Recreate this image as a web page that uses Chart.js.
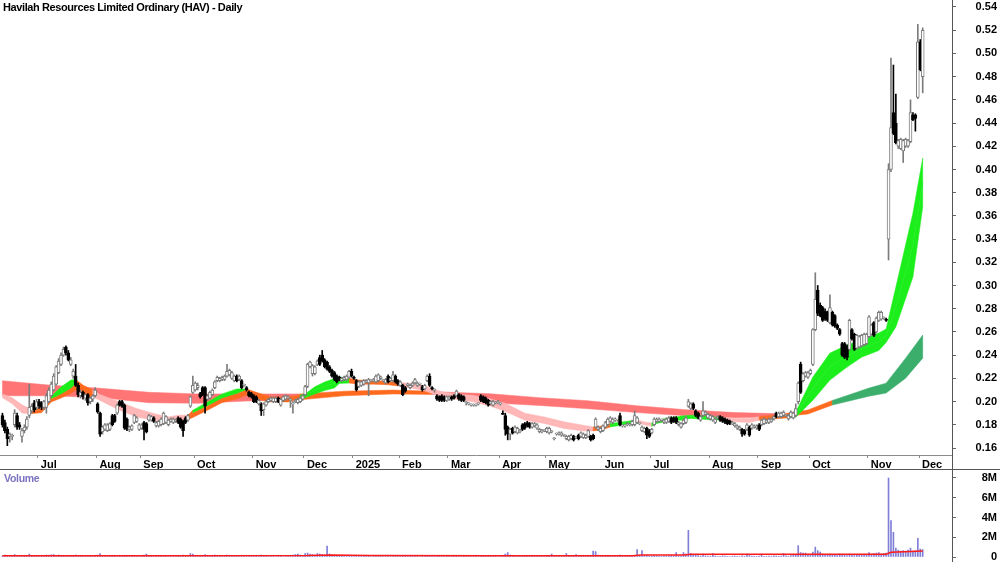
<!DOCTYPE html>
<html>
<head>
<meta charset="utf-8">
<title>HAV Daily</title>
<script src="https://cdn.jsdelivr.net/npm/chart.js@4.4.1/dist/chart.umd.min.js"></script>
<style>
  html, body { margin: 0; padding: 0; background: #fff; }
  #wrap { position: relative; width: 1000px; height: 562px; overflow: hidden; font-family: "Liberation Sans", Arial, sans-serif; }
  #priceChart { position: absolute; left: 0; top: 0; }
  #volChart { position: absolute; left: 0; top: 470px; }
  .title { position: absolute; left: 3px; top: 1px; font-weight: bold; font-size: 11px; letter-spacing: -0.4px; color: #000; white-space: nowrap; }
  .vlabel { position: absolute; left: 4px; top: 472px; font-weight: bold; font-size: 10.5px; letter-spacing: -0.3px; color: #7b72c0; }
  .hline { position: absolute; left: 0; top: 469px; width: 1000px; height: 1px; background: #555; }
  .vline { position: absolute; left: 952px; top: 0; width: 1px; height: 562px; background: #555; }
</style>
</head>
<body>
<div id="wrap">
  <canvas id="priceChart" width="1000" height="469"></canvas>
  <canvas id="volChart" width="1000" height="92"></canvas>
  <div class="hline"></div>
  <div class="vline"></div>
  <div class="title">Havilah Resources Limited Ordinary (HAV) - Daily</div>
  <div class="vlabel">Volume</div>
</div>
<script>
// daily candles, index 0 = mid June 2024, last = early Dec 2025
const opens = [
  .188,.182,.176,.170,.170,.180,.188,.180,.170,.175,
  .178,.188,.192,.199,.195,.200,.199,.195,.195,.200,
  .205,.210,.215,.225,.232,.240,.247,.242,.232,.222,
  .222,.214,.205,.208,.203,.206,.200,.202,.205,.198,
  .190,.174,.176,.175,.176,.188,.188,.190,.200,.200,
  .197,.185,.176,.176,.182,.183,.176,.177,.182,.181,
  .184,.184,.186,.179,.179,.180,.181,.182,.180,.183,
  .182,.183,.186,.185,.183,.186,.184,.196,.208,.210,
  .212,.207,.212,.212,.202,.203,.206,.212,.218,.218,
  .219,.219,.222,.223,.220,.218,.222,.219,.218,.214,
  .212,.208,.207,.205,.204,.198,.198,.193,.197,.200,
  .201,.200,.200,.203,.197,.201,.202,.203,.201,.198,
  .200,.199,.200,.202,.206,.213,.230,.224,.224,.232,
  .238,.240,.236,.234,.230,.227,.225,.222,.221,.218,
  .219,.219,.221,.226,.221,.218,.213,.214,.215,.217,
  .216,.218,.218,.217,.218,.220,.218,.216,.222,.218,
  .218,.222,.218,.214,.214,.212,.214,.212,.214,.216,
  .214,.215,.213,.211,.218,.222,.212,.210,.205,.204,
  .205,.204,.201,.202,.204,.205,.205,.206,.205,.204,
  .199,.198,.197,.197,.197,.198,.205,.204,.203,.201,
  .198,.197,.199,.199,.198,.190,.188,.178,.172,.177,
  .174,.173,.174,.180,.181,.182,.181,.178,.179,.177,
  .174,.174,.175,.174,.173,.174,.168,.172,.172,.171,
  .171,.168,.167,.168,.170,.169,.171,.170,.169,.169,
  .170,.170,.171,.178,.176,.174,.175,.178,.180,.183,
  .182,.184,.184,.188,.179,.179,.180,.180,.180,.180,
  .182,.181,.175,.174,.177,.175,.173,.180,.183,.183,
  .184,.182,.182,.183,.186,.186,.186,.180,.178,.181,
  .182,.196,.194,.198,.192,.190,.184,.188,.189,.186,
  .185,.184,.182,.186,.187,.186,.185,.184,.183,.181,
  .179,.177,.176,.176,.175,.176,.178,.177,.178,.177,
  .180,.180,.181,.182,.182,.183,.185,.190,.187,.187,
  .188,.188,.185,.187,.186,.188,.200,.232,.218,.222,
  .221,.224,.232,.262,.296,.283,.281,.278,.277,.268,
  .277,.274,.266,.262,.250,.250,.248,.245,.262,.258,
  .246,.247,.248,.249,.250,.256,.258,.268,.260,.270,
  .271,.272,.271,.340,.400,.449,.440,.420,.418,.416,
  .420,.420,.424,.447,.447,.462,.510,.480
];
const highs = [
  .190,.184,.178,.173,.172,.193,.190,.182,.177,.180,
  .187,.215,.198,.201,.202,.202,.200,.201,.207,.212,
  .217,.224,.231,.237,.242,.247,.248,.244,.238,.228,
  .232,.216,.210,.209,.207,.207,.204,.206,.212,.199,
  .191,.179,.181,.181,.182,.189,.189,.198,.201,.201,
  .198,.186,.179,.180,.189,.187,.181,.181,.183,.182,
  .189,.188,.187,.183,.184,.186,.191,.188,.185,.186,
  .186,.185,.187,.186,.184,.187,.189,.205,.222,.217,
  .216,.208,.213,.213,.206,.209,.211,.218,.222,.221,
  .222,.223,.232,.228,.226,.223,.223,.223,.219,.215,
  .213,.209,.208,.206,.205,.202,.199,.199,.201,.203,
  .204,.204,.204,.204,.203,.205,.206,.205,.203,.200,
  .202,.203,.204,.206,.214,.233,.235,.232,.231,.236,
  .240,.244,.237,.235,.231,.228,.226,.223,.222,.221,
  .222,.223,.227,.228,.222,.219,.218,.218,.219,.219,
  .220,.219,.220,.223,.224,.222,.219,.220,.223,.221,
  .226,.223,.219,.218,.215,.213,.216,.215,.217,.220,
  .217,.216,.214,.215,.223,.224,.213,.211,.206,.205,
  .206,.205,.205,.205,.205,.206,.210,.207,.206,.205,
  .200,.199,.198,.198,.198,.199,.206,.205,.204,.202,
  .201,.201,.200,.201,.199,.192,.190,.179,.177,.178,
  .179,.178,.176,.181,.182,.183,.182,.182,.182,.181,
  .177,.176,.176,.178,.178,.175,.169,.173,.174,.174,
  .172,.171,.171,.172,.171,.170,.172,.174,.173,.172,
  .176,.171,.172,.186,.179,.178,.180,.183,.186,.187,
  .186,.186,.185,.190,.180,.180,.182,.181,.184,.192,
  .187,.182,.179,.178,.178,.176,.177,.186,.186,.186,
  .185,.185,.186,.187,.187,.187,.187,.183,.182,.185,
  .187,.202,.199,.199,.193,.191,.188,.200,.192,.190,
  .189,.188,.186,.188,.188,.187,.186,.185,.184,.183,
  .182,.180,.179,.177,.176,.181,.179,.181,.180,.180,
  .181,.185,.186,.185,.186,.186,.188,.191,.191,.191,
  .192,.189,.189,.192,.191,.198,.217,.234,.225,.226,
  .226,.228,.263,.311,.300,.285,.282,.280,.278,.292,
  .278,.275,.267,.263,.251,.251,.249,.271,.263,.259,
  .258,.257,.258,.259,.259,.274,.267,.269,.273,.278,
  .278,.273,.272,.405,.496,.490,.465,.426,.427,.426,
  .427,.426,.460,.449,.448,.525,.512,.522
];
const lows = [
  .178,.173,.162,.165,.167,.178,.176,.176,.165,.173,
  .176,.186,.190,.191,.193,.194,.193,.193,.190,.199,
  .204,.209,.214,.224,.231,.239,.240,.235,.231,.220,
  .213,.204,.203,.202,.201,.197,.198,.200,.204,.190,
  .170,.172,.175,.174,.175,.179,.182,.189,.196,.195,
  .176,.175,.174,.175,.181,.182,.175,.176,.167,.173,
  .183,.183,.182,.178,.178,.179,.180,.181,.179,.182,
  .181,.182,.181,.177,.170,.181,.183,.195,.207,.209,
  .210,.203,.205,.190,.201,.202,.205,.211,.217,.217,
  .218,.218,.221,.222,.219,.217,.217,.218,.211,.213,
  .209,.204,.203,.199,.199,.197,.188,.188,.196,.199,
  .200,.199,.199,.199,.196,.200,.201,.202,.195,.190,
  .199,.198,.199,.201,.205,.212,.229,.222,.223,.231,
  .231,.234,.229,.227,.225,.221,.218,.216,.218,.217,
  .218,.218,.220,.221,.219,.209,.212,.213,.214,.216,
  .205,.217,.217,.216,.217,.219,.217,.215,.216,.217,
  .217,.216,.214,.213,.205,.208,.213,.211,.213,.215,
  .213,.214,.209,.210,.217,.213,.210,.208,.201,.200,
  .200,.200,.200,.201,.201,.202,.204,.201,.200,.200,
  .197,.197,.196,.196,.196,.197,.200,.199,.198,.196,
  .197,.196,.198,.198,.197,.189,.171,.167,.167,.172,
  .173,.172,.173,.175,.176,.178,.177,.177,.178,.176,
  .173,.173,.174,.173,.172,.173,.167,.171,.171,.170,
  .170,.167,.166,.167,.166,.168,.167,.169,.168,.168,
  .169,.166,.167,.177,.175,.173,.174,.177,.179,.182,
  .181,.183,.183,.179,.178,.178,.179,.179,.179,.179,
  .181,.180,.174,.173,.168,.169,.172,.179,.182,.182,
  .183,.181,.181,.182,.181,.182,.181,.179,.177,.180,
  .181,.195,.193,.193,.187,.185,.183,.187,.188,.185,
  .184,.183,.181,.185,.183,.182,.181,.180,.180,.180,
  .178,.176,.175,.170,.171,.175,.170,.176,.177,.176,
  .175,.179,.180,.181,.181,.182,.184,.186,.186,.186,
  .187,.187,.184,.186,.185,.187,.198,.207,.217,.221,
  .220,.223,.231,.261,.274,.273,.269,.270,.269,.267,
  .265,.264,.262,.257,.239,.237,.236,.244,.253,.244,
  .245,.246,.247,.248,.249,.255,.257,.256,.259,.269,
  .270,.271,.269,.322,.398,.430,.422,.418,.417,.406,
  .419,.419,.423,.442,.433,.461,.485,.466
];
const closes = [
  .180,.175,.168,.172,.170,.190,.178,.178,.175,.178,
  .185,.195,.196,.193,.200,.196,.195,.200,.205,.210,
  .215,.222,.230,.235,.240,.245,.242,.236,.236,.226,
  .214,.206,.208,.204,.206,.199,.203,.205,.210,.191,
  .172,.178,.180,.180,.181,.180,.183,.197,.197,.196,
  .177,.176,.178,.179,.188,.186,.180,.180,.176,.174,
  .188,.187,.183,.182,.183,.185,.190,.187,.184,.185,
  .185,.184,.182,.178,.175,.182,.188,.204,.214,.216,
  .214,.204,.206,.196,.205,.208,.210,.217,.221,.220,
  .221,.222,.226,.227,.225,.222,.218,.222,.212,.214,
  .210,.205,.204,.200,.200,.201,.192,.198,.200,.202,
  .203,.203,.203,.200,.202,.204,.205,.204,.202,.199,
  .201,.202,.203,.205,.213,.232,.234,.231,.230,.235,
  .232,.235,.230,.228,.226,.222,.219,.217,.219,.220,
  .221,.222,.226,.222,.220,.210,.217,.217,.218,.218,
  .219,.218,.219,.222,.223,.221,.218,.219,.217,.220,
  .223,.217,.215,.217,.206,.209,.215,.214,.216,.219,
  .216,.215,.210,.214,.222,.214,.211,.210,.202,.201,
  .201,.201,.204,.204,.202,.203,.209,.202,.201,.201,
  .199,.198,.197,.197,.197,.198,.201,.200,.199,.197,
  .200,.200,.199,.200,.198,.189,.176,.172,.176,.173,
  .178,.177,.175,.176,.177,.179,.178,.181,.181,.180,
  .176,.175,.175,.177,.177,.174,.168,.172,.173,.173,
  .171,.170,.170,.171,.167,.169,.168,.173,.172,.171,
  .175,.167,.168,.185,.178,.177,.179,.182,.185,.186,
  .185,.185,.184,.180,.179,.179,.181,.180,.183,.188,
  .186,.181,.178,.177,.171,.170,.176,.185,.185,.185,
  .184,.184,.185,.186,.182,.183,.182,.182,.181,.184,
  .186,.200,.198,.194,.188,.186,.187,.192,.191,.189,
  .188,.187,.185,.187,.184,.183,.182,.181,.181,.182,
  .181,.179,.178,.172,.172,.180,.171,.180,.179,.179,
  .176,.184,.185,.184,.185,.185,.187,.187,.190,.190,
  .191,.188,.188,.191,.190,.194,.216,.208,.224,.225,
  .225,.227,.262,.288,.276,.274,.270,.271,.270,.281,
  .266,.265,.263,.258,.240,.238,.238,.270,.254,.245,
  .257,.256,.257,.258,.258,.273,.266,.257,.272,.277,
  .277,.272,.270,.400,.436,.431,.423,.425,.426,.425,
  .426,.425,.449,.443,.444,.510,.486,.520
];
// volume in millions of shares
const volumes = [
  .12,.2,.15,.08,.1,.25,.1,.06,.12,.09,
  .15,.3,.12,.1,.08,.06,.1,.14,.2,.18,
  .22,.25,.15,.2,.18,.12,.1,.15,.08,.1,
  .2,.16,.1,.06,.05,.1,.08,.05,.12,.2,
  .35,.12,.06,.05,.1,.15,.08,.05,.1,.06,
  .18,.1,.05,.04,.12,.06,.05,.08,.2,.3,
  .12,.08,.05,.1,.06,.08,.15,.1,.05,.08,
  .06,.05,.1,.12,.2,.08,.1,.35,.3,.15,
  .1,.08,.12,.25,.1,.08,.15,.2,.12,.1,
  .06,.08,.2,.12,.1,.06,.08,.05,.1,.06,
  .05,.08,.06,.1,.12,.05,.2,.15,.06,.05,
  .04,.06,.05,.08,.1,.05,.06,.04,.1,.2,
  .25,.3,.2,.15,.35,.4,.3,.25,.2,.35,
  .3,.25,.2,1.1,.3,.2,.15,.1,.12,.08,
  .06,.05,.1,.15,.08,.12,.06,.05,.08,.06,
  .1,.05,.04,.08,.12,.06,.05,.08,.1,.05,
  .12,.08,.1,.06,.15,.1,.05,.06,.08,.1,
  .06,.05,.1,.08,.15,.12,.06,.05,.1,.08,
  .06,.05,.08,.1,.06,.08,.12,.05,.06,.08,
  .04,.03,.05,.04,.03,.05,.1,.08,.06,.1,
  .05,.06,.04,.05,.06,.1,.3,.45,.2,.15,
  .1,.12,.08,.15,.1,.08,.12,.06,.1,.08,
  .12,.06,.05,.1,.08,.3,.06,.05,.08,.06,
  .1,.35,.08,.06,.1,.25,.08,.06,.12,.08,
  .1,.15,.6,.55,.2,.15,.1,.12,.08,.1,
  .06,.08,.1,.2,.06,.05,.08,.06,.1,.15,
  .75,.2,.65,.15,.2,.12,.1,.15,.12,.08,
  .06,.1,.08,.12,.15,.1,.45,.12,.1,.45,
  .3,2.7,.35,.25,.2,.15,.1,.3,.12,.1,
  .08,.35,.1,.06,.08,.12,.1,.06,.05,.08,
  .1,.06,.05,.12,.08,.3,.15,.1,.08,.06,
  .1,.3,.08,.06,.1,.08,.12,.1,.08,.1,
  .35,.12,.08,.15,.2,.25,1.15,.45,.4,.4,
  .3,.25,.5,1.0,.65,.5,.3,.25,.2,.3,
  .25,.2,.15,.3,.25,.2,.15,.3,.2,.15,
  .2,.25,.2,.3,.25,.45,.3,.35,.4,.45,
  .3,.35,.4,8.0,3.7,2.5,.9,.7,.6,.65,
  .6,.7,.9,.6,.65,1.9,.8,.75
];
// volume average line (red), read at a few candles
const volAvgX = [0, 60, 125, 135, 150, 200, 258, 262, 279, 282, 362, 364, 372, 377];
const volAvgY = [.12, .12, .14, .2, .14, .12, .13, .2, .2, .28, .28, .47, .55, .62];

// long-term MMA band (outer edges), colour per segment
const longX   = [0, 20, 40, 60, 80, 100, 122, 140, 160, 176, 180, 200, 220, 240, 260, 280, 300, 320, 330, 340, 355, 362, 370, 377];
const longTop = [.218, .214, .2115, .208, .2066, .2066, .2066, .209, .2099, .209, .2083, .2067, .2034, .2007, .1964, .1930, .1905, .1895, .1928, .2010, .2116, .2159, .2374, .2573];
const longBot = [.205, .205, .2035, .199, .1985, .2005, .2015, .205, .2066, .2062, .2057, .1989, .1967, .1938, .1905, .1878, .1860, .1870, .1893, .1970, .2047, .2073, .2202, .2374];
const longCol = 'rrrrrrooorrrrrrrroodddddd'.split('');

// short-term MMA band: top / middle / bottom edges, upper and lower colours
const shortX = [
  0, 4, 8, 11, 16, 20, 24, 28, 30, 33,
  37, 40, 48, 55, 62, 68, 72, 76, 78, 84,
  90, 96, 100, 104, 110, 117, 122, 124, 128, 132,
  136, 138, 142, 146, 152, 158, 162, 168, 172, 176,
  180, 186, 193, 200, 206, 214, 222, 230, 238, 242,
  246, 249, 256, 260, 263, 266, 268, 272, 276, 278,
  282, 286, 292, 295, 300, 306, 310, 316, 322, 325,
  332, 339, 346, 352, 359, 362, 366, 373, 377
];
const shortTop = [
  .2066,.2032,.1973,.1940,.1941,.2045,.2126,.2185,.2190,.2142,
  .2099,.2060,.1997,.1940,.1897,.1868,.1883,.1883,.1926,.1997,
  .2066,.2109,.2109,.2080,.2040,.2040,.2057,.2066,.2127,.2169,
  .2198,.2213,.2200,.2185,.2180,.2175,.2165,.2156,.2142,.2113,
  .2084,.2066,.2052,.2023,.1985,.1900,.1868,.1826,.1796,.1782,
  .1790,.1811,.1830,.1843,.1824,.1816,.1837,.1857,.1868,.1876,
  .1883,.1880,.1868,.1865,.1855,.1855,.1870,.1883,.1887,.1910,
  .2211,.2418,.2487,.2530,.2590,.2625,.2987,.3624,.4098
];
const shortMid = [
  .2049,.2006,.1937,.1918,.1922,.2020,.2062,.2110,.2150,.2106,
  .2070,.2035,.1962,.1904,.1868,.1846,.1854,.1865,.1900,.1960,
  .2026,.2066,.2100,.2052,.2018,.2018,.2040,.2049,.2097,.2132,
  .2158,.2185,.2180,.2168,.2165,.2160,.2150,.2135,.2120,.2092,
  .2062,.2043,.2025,.1992,.1950,.1870,.1840,.1797,.1772,.1765,
  .1775,.1797,.1817,.1830,.1812,.1801,.1824,.1842,.1854,.1858,
  .1869,.1865,.1854,.1855,.1840,.1838,.1855,.1866,.1873,.1888,
  .2112,.2302,.2392,.2456,.2515,.2568,.2815,.3349,.3887
];
const shortBot = [
  .2032,.1981,.1901,.1895,.1904,.1997,.2030,.2070,.2100,.2070,
  .2040,.2010,.1926,.1868,.1840,.1825,.1825,.1846,.1863,.1926,
  .1991,.2023,.2057,.2023,.1997,.1997,.2023,.2032,.2066,.2095,
  .2118,.2156,.2160,.2150,.2150,.2145,.2135,.2113,.2099,.2070,
  .2040,.2020,.1997,.1960,.1915,.1840,.1811,.1768,.1747,.1747,
  .1760,.1782,.1804,.1817,.1800,.1787,.1811,.1828,.1840,.1840,
  .1855,.1850,.1840,.1845,.1826,.1820,.1840,.1850,.1860,.1865,
  .2012,.2185,.2297,.2383,.2440,.2510,.2642,.3073,.3676
];
const shortUpCol = ('pppoogggoo' + 'pppppppogg' + 'ggoooogggg' + 'ggoooopppp' +
  'pppppppppo' + 'oggppggggg' + 'gggpppoogg' + 'ggggggggg').split('');
const shortLoCol = ('pppooooooo' + 'pppppppooo' + 'oooooogggg' + 'ggoooopppp' +
  'pppppppppo' + 'oggppggggg' + 'gggpppoogg' + 'ggggggggg').split('');

const priceTicks = [0.16, 0.18, 0.20, 0.22, 0.24, 0.26, 0.28, 0.30, 0.32, 0.34, 0.36, 0.38, 0.40, 0.42, 0.44, 0.46, 0.48, 0.50, 0.52, 0.54];
const volTicks = [0, 2, 4, 6, 8];
const monthTicks = [14.5, 38.5, 56.5, 78.5, 102.5, 123.5, 143.5, 162.5, 182.5, 203.5, 222.5, 245.5, 265.5, 289.5, 309.5, 330.5, 354.5, 375.5];
const monthLabels = ['Jul', 'Aug', 'Sep', 'Oct', 'Nov', 'Dec', '2025', 'Feb', 'Mar', 'Apr', 'May', 'Jun', 'Jul', 'Aug', 'Sep', 'Oct', 'Nov', 'Dec'];

const bandColors = { r: '#ff7575', p: '#ffb6b6', o: '#ff6a1e', g: '#1cee1c', d: '#3cae6c' };

Chart.defaults.font.family = '"Liberation Sans", Arial, sans-serif';
Chart.defaults.animation = false;

const isUp = closes.map((c, i) => c >= opens[i]);
const axisFont = { size: 11, weight: 'bold' };

// fill one band, joining runs of the same colour into one polygon
function fillBand(ctx, xs, ys, X, hi, lo, cols) {
  let k = 0;
  while (k < X.length - 1) {
    const c = cols[k];
    let e = k;
    while (e < X.length - 1 && cols[e] === c) e++;
    ctx.beginPath();
    for (let j = k; j <= e; j++) ctx.lineTo(xs.getPixelForValue(X[j]), ys.getPixelForValue(hi[j]));
    for (let j = e; j >= k; j--) ctx.lineTo(xs.getPixelForValue(X[j]), ys.getPixelForValue(lo[j]));
    ctx.closePath();
    ctx.fillStyle = bandColors[c];
    ctx.strokeStyle = bandColors[c];
    ctx.lineWidth = 0.5;
    ctx.fill();
    ctx.stroke();
    k = e;
  }
}

const bandPlugin = {
  id: 'mmaBands',
  beforeDatasetsDraw(chart) {
    const { ctx, chartArea, scales } = chart;
    ctx.save();
    ctx.beginPath();
    ctx.rect(chartArea.left, chartArea.top, chartArea.width, chartArea.height);
    ctx.clip();
    fillBand(ctx, scales.x, scales.y, longX, longTop, longBot, longCol);
    fillBand(ctx, scales.x, scales.y, shortX, shortTop, shortMid, shortUpCol);
    fillBand(ctx, scales.x, scales.y, shortX, shortMid, shortBot, shortLoCol);
    ctx.restore();
  }
};

function fixY(width) {
  return s => { s.width = width; s.paddingTop = 0; s.paddingBottom = 0; };
}

new Chart(document.getElementById('priceChart'), {
  type: 'bar',
  data: {
    datasets: [
      {
        label: 'bodies',
        data: closes.map((c, i) => ({ x: i, y: [opens[i], c] })),
        backgroundColor: isUp.map(u => u ? '#ffffff' : '#000000'),
        borderColor: isUp.map(u => u ? '#7c7c7c' : '#000000'),
        borderWidth: 1,
        borderSkipped: false,
        barThickness: 3,
        minBarLength: 1,
        grouped: false,
        order: 1
      },
      {
        label: 'wicks',
        data: closes.map((c, i) => ({ x: i, y: [lows[i], highs[i]] })),
        backgroundColor: isUp.map(u => u ? '#7c7c7c' : '#000000'),
        barThickness: 1,
        grouped: false,
        order: 2
      }
    ]
  },
  options: {
    responsive: false,
    layout: { padding: { left: 0, right: 3, top: 0, bottom: 0 } },
    plugins: { legend: { display: false }, tooltip: { enabled: false } },
    scales: {
      x: {
        type: 'linear', min: -1, max: 389, offset: false,
        afterBuildTicks: s => { s.ticks = monthTicks.map(v => ({ value: v })); },
        afterFit: s => { s.height = 14; s.paddingLeft = 0; s.paddingRight = 0; },
        ticks: {
          autoSkip: false, maxRotation: 0, align: 'start', labelOffset: 3, padding: 0,
          font: axisFont, color: '#000',
          callback: (v, idx) => monthLabels[idx]
        },
        grid: { drawOnChartArea: false, offset: false, tickLength: 3, color: '#8a8a8a' },
        border: { display: true, color: '#8a8a8a' }
      },
      y: {
        position: 'right', min: 0.15397, max: 0.54603,
        afterBuildTicks: s => { s.ticks = priceTicks.map(v => ({ value: v })); },
        afterFit: fixY(45),
        ticks: { font: axisFont, color: '#000', crossAlign: 'far', padding: 19, callback: v => v.toFixed(2) },
        grid: { drawOnChartArea: false, tickLength: 4, color: '#666' },
        border: { display: false }
      }
    }
  },
  plugins: [bandPlugin]
});

new Chart(document.getElementById('volChart'), {
  type: 'bar',
  data: {
    datasets: [
      {
        type: 'line',
        label: 'average',
        data: volAvgX.map((x, i) => ({ x: x, y: volAvgY[i] })),
        borderColor: '#ff1a1a',
        borderWidth: 1.5,
        pointRadius: 0,
        tension: 0,
        order: 1
      },
      {
        label: 'volume',
        data: volumes.map((v, i) => ({ x: i, y: v })),
        backgroundColor: '#7f7fd8',
        barThickness: 1,
        grouped: false,
        order: 2
      }
    ]
  },
  options: {
    responsive: false,
    layout: { padding: { left: 0, right: 3, top: 0, bottom: 5 } },
    plugins: { legend: { display: false }, tooltip: { enabled: false } },
    scales: {
      x: { type: 'linear', min: -1, max: 389, offset: false, display: false },
      y: {
        position: 'right', min: 0, max: 8.81,
        afterBuildTicks: s => { s.ticks = volTicks.map(v => ({ value: v })); },
        afterFit: fixY(45),
        ticks: { font: axisFont, color: '#000', crossAlign: 'far', padding: 25, callback: v => v === 0 ? '0' : v + 'M' },
        grid: { drawOnChartArea: false, tickLength: 4, color: '#666' },
        border: { display: false }
      }
    }
  }
});
</script>
</body>
</html>
